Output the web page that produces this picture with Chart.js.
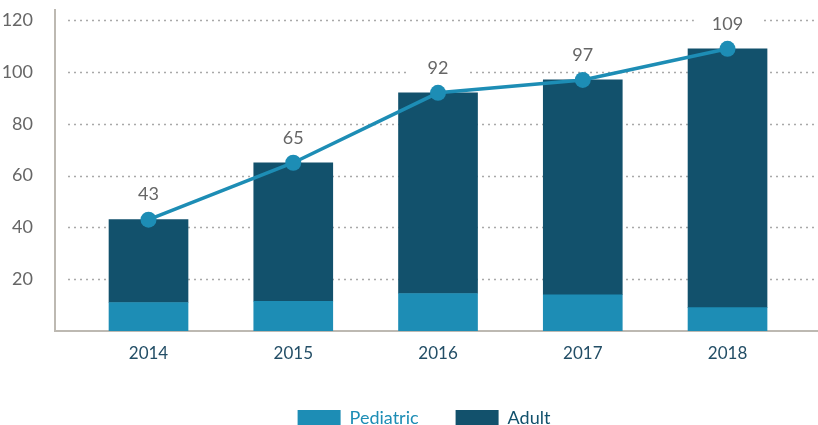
<!DOCTYPE html>
<html>
<head>
<meta charset="utf-8">
<script src="https://cdn.jsdelivr.net/npm/chart.js@4.4.0/dist/chart.umd.min.js"></script>
<style>
  html, body { margin: 0; padding: 0; background: #fff; overflow: hidden; }
  #wrap { width: 818px; height: 437px; position: relative; }
</style>
</head>
<body>
<div id="wrap"><canvas id="chart"></canvas></div>
<script>
// values
const years = ['2014', '2015', '2016', '2017', '2018'];
const pediatric = [11, 11.5, 14.5, 14, 9];
const adult = [32, 53.5, 77.5, 83, 100];
const totals = [43, 65, 92, 97, 109];
const yTicks = [20, 40, 60, 80, 100, 120];

const lightBlue = '#1d8db5';
const darkBlue = '#12516c';
const axisGray = '#bdb9b2';
const labelFont = '18px Lato';

const toPoints = arr => arr.map((v, i) => ({ x: i, y: v }));

// dotted grid lines that start a bit right of the axis,
// with white patches behind the total labels
const dottedGrid = {
  id: 'dottedGrid',
  beforeDatasetsDraw(chart) {
    const { ctx, chartArea, scales } = chart;
    ctx.save();
    ctx.strokeStyle = '#a9a9a9';
    ctx.lineWidth = 1.5;
    ctx.setLineDash([2, 4]);
    yTicks.forEach(t => {
      const py = Math.round(scales.y.getPixelForValue(t)) + 0.5;
      ctx.beginPath();
      ctx.moveTo(chartArea.left + 13, py);
      ctx.lineTo(chartArea.right, py);
      ctx.stroke();
    });
    ctx.setLineDash([]);
    ctx.font = labelFont;
    ctx.fillStyle = '#fff';
    chart.getDatasetMeta(0).data.forEach((pt, i) => {
      const w = ctx.measureText(String(totals[i])).width + 36;
      ctx.fillRect(pt.x - w / 2, pt.y - 36, w, 22);
    });
    ctx.restore();
  }
};

// total labels over the line points
const totalLabels = {
  id: 'totalLabels',
  afterDatasetsDraw(chart) {
    const { ctx } = chart;
    ctx.save();
    ctx.font = labelFont;
    ctx.textAlign = 'center';
    ctx.textBaseline = 'middle';
    ctx.fillStyle = '#666';
    chart.getDatasetMeta(0).data.forEach((pt, i) => {
      ctx.fillText(String(totals[i]), pt.x, pt.y - 25);
    });
    ctx.restore();
  }
};

// legend sits a little right of centre in the original
const legendShift = {
  id: 'legendShift',
  afterLayout(chart) {
    chart.legend.left += 15;
    chart.legend.right += 15;
  }
};

const ctx = document.getElementById('chart');
new Chart(ctx, {
  type: 'bar',
  data: {
    labels: years,
    datasets: [
      {
        type: 'line',
        label: 'Total',
        data: toPoints(totals),
        stack: 'line',
        borderColor: lightBlue,
        backgroundColor: lightBlue,
        borderWidth: 3.5,
        pointRadius: 8,
        pointBorderWidth: 0,
        pointBackgroundColor: lightBlue,
        tension: 0,
        clip: false,
        order: 0
      },
      {
        label: 'Pediatric',
        data: toPoints(pediatric),
        stack: 'bars',
        backgroundColor: lightBlue,
        barThickness: 79,
        order: 1
      },
      {
        label: 'Adult',
        data: toPoints(adult),
        stack: 'bars',
        backgroundColor: darkBlue,
        barThickness: 79,
        order: 1
      }
    ]
  },
  options: {
    responsive: true,
    maintainAspectRatio: false,
    animation: false,
    layout: { autoPadding: false, padding: { top: 10, right: 0, left: 0, bottom: 0 } },
    scales: {
      x: {
        type: 'linear',
        min: -0.646,
        max: 4.625,
        offset: false,
        stacked: true,
        grid: { display: false },
        border: { color: axisGray, width: 2 },
        afterBuildTicks: s => { s.ticks = years.map((_, i) => ({ value: i })); },
        afterFit: s => { s.height = 41; s.paddingLeft = 0; s.paddingRight = 0; },
        ticks: {
          padding: 4,
          color: '#234e66',
          font: { family: 'Lato', size: 17 },
          callback: v => years[v]
        }
      },
      y: {
        stacked: true,
        min: 0,
        max: 124,
        grid: { display: false },
        border: { color: axisGray, width: 2 },
        afterBuildTicks: s => { s.ticks = yTicks.map(v => ({ value: v })); },
        afterFit: s => { s.width = 55; s.paddingTop = 0; s.paddingBottom = 0; },
        ticks: {
          padding: 14,
          color: '#666',
          font: { family: 'Lato', size: 18 }
        }
      }
    },
    plugins: {
      tooltip: { enabled: false },
      legend: {
        position: 'bottom',
        labels: {
          boxWidth: 43,
          boxHeight: 16,
          padding: 37,
          font: { family: 'Lato', size: 18 },
          filter: item => item.text !== 'Total',
          generateLabels: chart => {
            const items = Chart.defaults.plugins.legend.labels.generateLabels(chart);
            return items.map(it => {
              it.fontColor = it.text === 'Pediatric' ? lightBlue : darkBlue;
              it.lineWidth = 0;
              return it;
            });
          }
        }
      }
    }
  },
  plugins: [dottedGrid, totalLabels, legendShift]
});
</script>
</body>
</html>
